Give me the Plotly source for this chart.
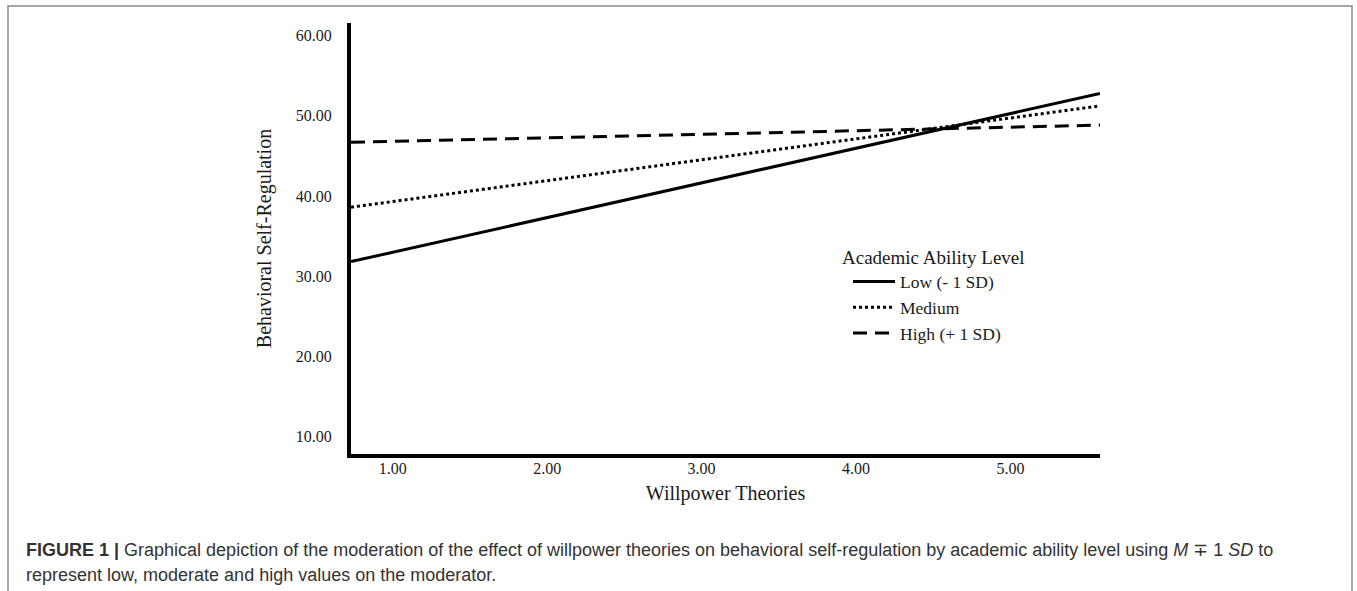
import plotly.graph_objects as go

# ---- data ----
x_range_vals = [0.73, 5.58]              # willpower theories (x extent of plotted lines)
low_vals = [31.8, 52.8]                  # Low (- 1 SD)
medium_vals = [38.6, 51.25]              # Medium
high_vals = [46.7, 48.85]                # High (+ 1 SD)
series_names = ["Low (- 1 SD)", "Medium", "High (+ 1 SD)"]
x_ticks = [1, 2, 3, 4, 5]
x_ticktext = ["1.00", "2.00", "3.00", "4.00", "5.00"]
y_ticks = [10, 20, 30, 40, 50, 60]
y_ticktext = ["10.00", "20.00", "30.00", "40.00", "50.00", "60.00"]

W, H = 1357, 591
L, R, T, B = 351, 1100, 23, 454   # plot area in page pixels
pw, ph = R - L, B - T

def px(xp):
    return (xp - L) / pw

def py(yp):
    return 1 - (yp - T) / ph

serif = "Liberation Serif"
sans = "Liberation Sans"
txt = "#1a1a1a"

fig = go.Figure()
styles = [("solid", low_vals), ("dot", medium_vals), ("14px,8px", high_vals)]
for name, (dash, vals) in zip(series_names, styles):
    fig.add_trace(go.Scatter(
        x=x_range_vals, y=vals, mode="lines", name=name,
        line=dict(color="black", width=3, dash=dash),
    ))

fig.update_layout(
    width=W, height=H,
    margin=dict(l=L, r=W - R, t=T, b=H - B, pad=0),
    paper_bgcolor="white", plot_bgcolor="white",
    font=dict(family=serif, color=txt),
    showlegend=True,
    legend=dict(
        x=px(840), y=py(239), xanchor="left", yanchor="top",
        bgcolor="rgba(0,0,0,0)",
        title=dict(text="Academic Ability Level", font=dict(family=serif, size=19, color=txt)),
        font=dict(family=serif, size=17.5, color=txt),
        indentation=8, itemwidth=42, tracegroupgap=0,
    ),
    xaxis=dict(
        range=[0.73, 5.58], showgrid=False, zeroline=False,
        showline=True, linecolor="black", linewidth=4,
        tickvals=x_ticks, ticktext=x_ticktext, ticks="",
        ticklabelstandoff=-3,
        tickfont=dict(family=serif, size=16, color=txt),
        title=dict(text="Willpower Theories", font=dict(family=serif, size=20, color=txt), standoff=11),
    ),
    yaxis=dict(
        range=[7.78, 61.6], showgrid=False, zeroline=False,
        showline=True, linecolor="black", linewidth=4,
        tickvals=y_ticks, ticktext=y_ticktext, ticks="",
        ticklabelstandoff=12,
        tickfont=dict(family=serif, size=16, color=txt),
        title=dict(text="Behavioral Self-Regulation", font=dict(family=serif, size=20, color=txt), standoff=20),
    ),
    shapes=[dict(
        type="rect", xref="paper", yref="paper",
        x0=px(8), x1=px(1352), y0=py(620), y1=py(6),
        line=dict(color="#8a8a8a", width=1.5), fillcolor="rgba(0,0,0,0)", layer="below",
    )],
    annotations=[
        dict(xref="paper", yref="paper", x=px(24), y=py(550), xanchor="left", yanchor="middle",
             showarrow=False, align="left",
             text="<b>FIGURE 1 |</b> Graphical depiction of the moderation of the effect of willpower theories on behavioral self-regulation by academic ability level using <i>M</i> ∓ 1 <i>SD</i> to",
             font=dict(family=sans, size=18, color="#333333")),
        dict(xref="paper", yref="paper", x=px(24), y=py(575), xanchor="left", yanchor="middle",
             showarrow=False, align="left",
             text="represent low, moderate and high values on the moderator.",
             font=dict(family=sans, size=18, color="#333333")),
    ],
)

fig.write_html(
    "out.html",
    config={"displayModeBar": False},
    post_script="document.body.style.margin='0';document.body.style.overflow='hidden';",
)
